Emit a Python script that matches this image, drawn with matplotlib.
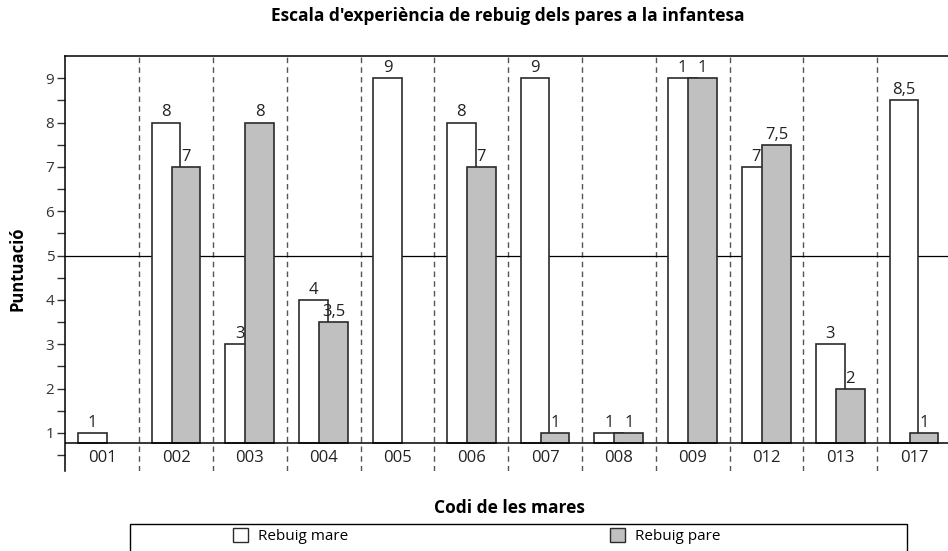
import numpy as np
import matplotlib
matplotlib.use("Agg")
import matplotlib.pyplot as plt
from matplotlib.patches import Patch, Rectangle

plt.rcParams['font.family'] = ['Open Sans', 'DejaVu Sans']

# data
codes = ["001", "002", "003", "004", "005", "006", "007", "008", "009", "012", "013", "017"]
mare = [1, 8, 3, 4, 9, 8, 9, 1, 9, 7, 3, 8.5]
pare = [np.nan, 7, 8, 3.5, np.nan, 7, 1, 1, 9, 7.5, 2, 1]
# labels as printed in the source chart (009 shows "1")
mare_labels = ["1", "8", "3", "4", "9", "8", "9", "1", "1", "7", "3", "8,5"]
pare_labels = ["", "7", "8", "3,5", "", "7", "1", "1", "1", "7,5", "2", "1"]

base = 0.77
ref_line = 5
edge = "#2b2b2b"
grey = "#c0c0c0"

fig = plt.figure(figsize=(9.48, 5.51), dpi=100)
ax = fig.add_axes([65.3 / 948, 1 - 470.7 / 551, 1 - 65.3 / 948, (470.7 - 56) / 551])

x = np.arange(len(codes))
off = 0.135
w = 0.39

mare_arr = np.array(mare, dtype=float)
pare_arr = np.array(pare, dtype=float)
mk = ~np.isnan(mare_arr)
pk = ~np.isnan(pare_arr)

ax.bar(x[mk] - off, mare_arr[mk] - base, bottom=base, width=w, color="white",
       edgecolor=edge, linewidth=1.2, zorder=3)
ax.bar(x[pk] + off, pare_arr[pk] - base, bottom=base, width=w, color=grey,
       edgecolor=edge, linewidth=1.2, zorder=4)

for i in range(len(codes)):
    if mk[i]:
        ax.annotate(mare_labels[i], (x[i] - off, mare_arr[i]), xytext=(0, 1.5),
                    textcoords="offset points", ha="center", va="bottom",
                    fontsize=12, color="#222222", zorder=5)
    if pk[i]:
        ax.annotate(pare_labels[i], (x[i] + off, pare_arr[i]), xytext=(0, 1.5),
                    textcoords="offset points", ha="center", va="bottom",
                    fontsize=12, color="#222222", zorder=5)
    # category label under the baseline
    ax.text(x[i], 0.44, codes[i], ha="center", va="center",
            fontsize=12, color="#222222")

# separators between categories
for s in x[:-1] + 0.5:
    ax.axvline(s, color="#555555", linewidth=1, linestyle=(0, (4, 3)), zorder=2)

ax.axhline(ref_line, color="black", linewidth=0.9, zorder=2)
ax.axhline(base, color="black", linewidth=1.1, zorder=6)

ax.set_xlim(-0.5, 11.46)
ax.set_ylim(0.15, 9.5)
ax.set_xticks([])
ax.set_yticks(range(1, 10))
ax.set_yticks(np.arange(0.5, 9.0, 1.0), minor=True)
ax.tick_params(axis="y", which="both", direction="out", length=6, width=1,
               color="#333333", labelsize=11, labelcolor="#333333", pad=2)

for side in ["right", "bottom"]:
    ax.spines[side].set_visible(False)
ax.spines["left"].set_linewidth(1.1)
ax.spines["top"].set_linewidth(1.1)

fig.text(508 / 948, 1 - 16 / 551, "Escala d'experiència de rebuig dels pares a la infantesa",
         ha="center", va="center", fontsize=12.5, fontweight="bold")
fig.text(17 / 948, 1 - 269 / 551, "Puntuació", rotation=90, ha="center", va="center",
         fontsize=12, fontweight="bold")
fig.text(509 / 948, 1 - 508 / 551, "Codi de les mares", ha="center", va="center",
         fontsize=12.5, fontweight="bold")

# legend box
fig.add_artist(Rectangle((130 / 948, -0.05), 777 / 948, (551 - 524) / 551 + 0.05,
                         transform=fig.transFigure, fill=False, edgecolor="black",
                         linewidth=1))
handles = [Patch(facecolor="white", edgecolor=edge, linewidth=1),
           Patch(facecolor=grey, edgecolor=edge, linewidth=1)]
fig.legend(handles, ["Rebuig mare", "Rebuig pare"], ncol=2, frameon=False,
           loc="center left", bbox_to_anchor=(233 / 948, 1 - 536 / 551),
           fontsize=11, handlelength=1.0, handleheight=1.0, handletextpad=0.65,
           columnspacing=17.1, borderpad=0, borderaxespad=0)

fig.savefig("out.png", dpi=100)
